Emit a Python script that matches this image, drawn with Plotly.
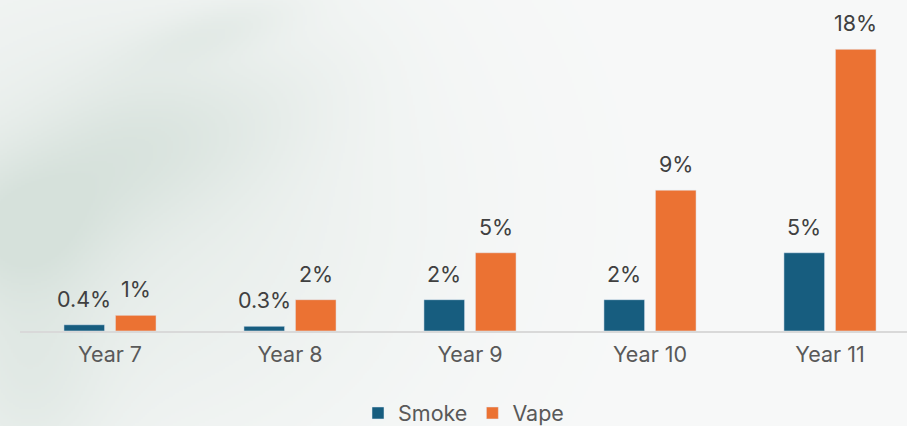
import base64
import struct
import zlib

import numpy as np
import plotly.graph_objects as go

# ---- data -------------------------------------------------------------
years = ["Year 7", "Year 8", "Year 9", "Year 10", "Year 11"]
smoke = [0.4, 0.3, 2, 2, 5]
vape = [1, 2, 5, 9, 18]
smoke_labels = ["0.4%", "0.3%", "2%", "2%", "5%"]
vape_labels = ["1%", "2%", "5%", "9%", "18%"]

# ---- styling ----------------------------------------------------------
W, H = 907, 426
M_L, M_R, M_T, M_B = 20, 0, 18, 95
SMOKE_C = "#175d7f"
VAPE_C = "#eb7233"
LABEL_C = "#404040"
AXIS_TEXT_C = "#595959"
BASE_BG = (248, 249, 249)
HAZE_C = (208, 221, 214)
FONT = "Inter, 'Open Sans', sans-serif"
FS = 21.5
BARGAP = 0.428
GROUPGAP = 0.21


def smoke_backdrop(w, h):
    """Soft grey-green smoke drifting in from the left edge."""
    yy, xx = np.mgrid[0:h, 0:w].astype(float)
    sx, sy = W / w, H / h
    X, Y = xx * sx, yy * sy

    def blob(cx, cy, rx, ry, k, ang=0.0):
        c, s = np.cos(ang), np.sin(ang)
        u = (X - cx) * c + (Y - cy) * s
        v = -(X - cx) * s + (Y - cy) * c
        return k * np.exp(-0.5 * ((u / rx) ** 2 + (v / ry) ** 2))

    a = (
        blob(110, 210, 220, 190, 0.40)
        + blob(120, 150, 90, 50, 0.35, -0.5)
        + blob(15, 230, 60, 50, 0.40)
        + blob(215, 30, 60, 18, 0.22, -0.3)
        + blob(25, 380, 55, 80, 0.30)
        + blob(250, 130, 90, 45, 0.12, -0.6)
    )
    a = np.clip(a, 0, 0.85)
    base = np.array(BASE_BG, float)
    haze = np.array(HAZE_C, float)
    img = base[None, None, :] * (1 - a[..., None]) + haze[None, None, :] * a[..., None]
    return img.astype(np.uint8)


def png_data_uri(rgb):
    h, w, _ = rgb.shape
    raw = b"".join(b"\x00" + rgb[r].tobytes() for r in range(h))

    def chunk(tag, data):
        body = tag + data
        return struct.pack(">I", len(data)) + body + struct.pack(">I", zlib.crc32(body) & 0xFFFFFFFF)

    png = b"\x89PNG\r\n\x1a\n"
    png += chunk(b"IHDR", struct.pack(">IIBBBBB", w, h, 8, 2, 0, 0, 0))
    png += chunk(b"IDAT", zlib.compress(raw, 9))
    png += chunk(b"IEND", b"")
    return "data:image/png;base64," + base64.b64encode(png).decode()


backdrop = png_data_uri(smoke_backdrop(W // 2, H // 2))

pw, ph = W - M_L - M_R, H - M_T - M_B

fig = go.Figure()
fig.add_trace(go.Bar(name="Smoke", x=list(range(len(years))), y=smoke, marker_color=SMOKE_C))
fig.add_trace(go.Bar(name="Vape", x=list(range(len(years))), y=vape, marker_color=VAPE_C))

# value labels sitting above each bar
slot = (1 - BARGAP) / 2
for vals, labels, off in ((smoke, smoke_labels, -slot / 2), (vape, vape_labels, slot / 2)):
    for i, (v, t) in enumerate(zip(vals, labels)):
        fig.add_annotation(
            x=i + off, y=v, text=t, showarrow=False, yanchor="bottom",
            yshift=11, font=dict(family=FONT, size=FS, color=LABEL_C),
        )

fig.update_layout(
    width=W, height=H,
    margin=dict(l=M_L, r=M_R, t=M_T, b=M_B, autoexpand=False),
    paper_bgcolor="rgb(%d,%d,%d)" % BASE_BG,
    plot_bgcolor="rgba(0,0,0,0)",
    barmode="group", bargap=BARGAP, bargroupgap=GROUPGAP,
    font=dict(family=FONT, size=FS, color=AXIS_TEXT_C),
    showlegend=True,
    legend=dict(
        orientation="h", x=0.5, xanchor="center", y=-(413 - (H - M_B)) / ph,
        yanchor="middle", font=dict(family=FONT, size=FS, color=AXIS_TEXT_C),
        itemwidth=30, tracegroupgap=0, bgcolor="rgba(0,0,0,0)",
    ),
    xaxis=dict(
        range=[-0.5, -0.5 + pw / 180], tickmode="array",
        tickvals=list(range(len(years))), ticktext=years,
        tickfont=dict(family=FONT, size=FS, color=AXIS_TEXT_C),
        showline=True, linecolor="#d9d9d9", linewidth=2, showgrid=False,
        zeroline=False, ticks="", ticklabelstandoff=3, fixedrange=True,
        automargin=False,
    ),
    yaxis=dict(range=[0, 20], visible=False, fixedrange=True),
    images=[dict(
        source=backdrop, xref="paper", yref="paper",
        x=-M_L / pw, y=1 + M_T / ph, sizex=W / pw, sizey=H / ph,
        xanchor="left", yanchor="top", sizing="stretch", layer="below",
    )],
)

fig.write_html("out.html", config={"displayModeBar": False})
